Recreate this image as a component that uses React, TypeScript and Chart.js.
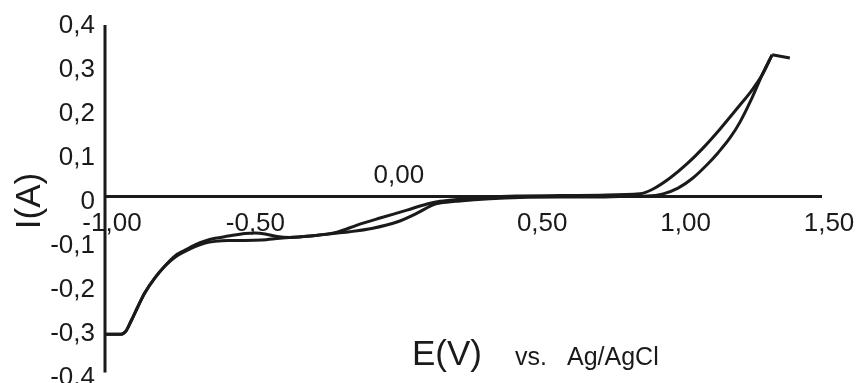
import React, { useEffect, useRef } from 'react';
import { Chart, registerables } from 'chart.js';

Chart.register(...registerables);

// Potential E (V vs Ag/AgCl) and current I (A)
const forwardE = [1.326, 1.291, 1.256, 1.214, 1.179, 1.137, 1.099, 1.05, 0.998, 0.946, 0.89, 0.796, 0.726, 0.586, 0.447, 0.342, 0.238, 0.168, 0.144, 0.088, 0.018, -0.066, -0.146, -0.205, -0.285, -0.39, -0.453, -0.512, -0.571, -0.616, -0.651, -0.686, -0.721, -0.756, -0.791, -0.826, -0.861, -0.885, -0.909, -0.927, -0.944, -1.0];
const forwardI = [0.322, 0.276, 0.224, 0.169, 0.133, 0.099, 0.072, 0.042, 0.019, 0.006, 0.001, 0.0, -0.001, -0.001, -0.002, -0.005, -0.01, -0.015, -0.019, -0.038, -0.058, -0.072, -0.08, -0.084, -0.09, -0.095, -0.099, -0.1, -0.1, -0.102, -0.106, -0.114, -0.125, -0.138, -0.158, -0.185, -0.219, -0.25, -0.283, -0.306, -0.313, -0.313];

const reverseE = [-1.0, -0.944, -0.927, -0.909, -0.885, -0.861, -0.826, -0.791, -0.756, -0.721, -0.686, -0.651, -0.616, -0.571, -0.512, -0.477, -0.442, -0.4, -0.355, -0.285, -0.191, -0.121, -0.041, 0.053, 0.123, 0.168, 0.238, 0.342, 0.447, 0.586, 0.726, 0.865, 0.911, 0.97, 1.029, 1.085, 1.144, 1.214, 1.256, 1.291, 1.326];
const reverseI = [-0.313, -0.313, -0.306, -0.283, -0.25, -0.219, -0.185, -0.158, -0.135, -0.122, -0.11, -0.101, -0.095, -0.09, -0.084, -0.083, -0.085, -0.091, -0.093, -0.09, -0.081, -0.065, -0.049, -0.031, -0.017, -0.011, -0.006, -0.001, 0.001, 0.002, 0.003, 0.006, 0.017, 0.042, 0.074, 0.11, 0.153, 0.208, 0.242, 0.276, 0.322];

const tailE = [1.326, 1.388];
const tailI = [0.322, 0.315];

const xTicks = [-1.0, -0.5, 0.0, 0.5, 1.0, 1.5];
const yTicks = [0.4, 0.3, 0.2, 0.1, 0, -0.1, -0.2, -0.3, -0.4];

const xTitle = 'E(V)';
const xSubTitle = 'vs.';
const xSubTitle2 = 'Ag/AgCl';
const yTitle = 'I(A)';

const toPts = (xs: number[], ys: number[]) => xs.map((x, i) => ({ x, y: ys[i] }));

const INK = '#1a1a1a';
const FONT = '"Liberation Sans", Arial, sans-serif';

const axesPlugin = {
  id: 'cvAxes',
  beforeDatasetsDraw(chart: any) {
    const { ctx, scales } = chart;
    const xs = scales.x;
    const ys = scales.y;
    const x0 = xs.getPixelForValue(-1);
    const x1 = xs.getPixelForValue(1.5);
    const y0 = ys.getPixelForValue(0);
    ctx.save();
    ctx.strokeStyle = INK;
    ctx.lineWidth = 3;
    ctx.beginPath();
    ctx.moveTo(x0, ys.getPixelForValue(0.39));
    ctx.lineTo(x0, ys.getPixelForValue(-0.4));
    ctx.moveTo(x0, y0);
    ctx.lineTo(x1, y0);
    ctx.stroke();
    ctx.restore();
  },
  afterDraw(chart: any) {
    const { ctx, scales } = chart;
    const xs = scales.x;
    const ys = scales.y;
    const axX = xs.getPixelForValue(-1);
    const y0 = ys.getPixelForValue(0);
    ctx.save();
    ctx.fillStyle = INK;
    ctx.font = `26px ${FONT}`;
    ctx.textBaseline = 'alphabetic';
    // y tick labels
    ctx.textAlign = 'right';
    yTicks.forEach((v) => {
      const label = v === 0 ? '0' : v.toFixed(1).replace('.', ',');
      ctx.fillText(label, axX - 10, ys.getPixelForValue(v) + 12.5);
    });
    // x tick labels
    ctx.textAlign = 'center';
    xTicks.forEach((v) => {
      const label = v.toFixed(2).replace('.', ',');
      const px = xs.getPixelForValue(v) + 7;
      const py = v === 0 ? y0 - 14 : y0 + 34;
      ctx.fillText(label, px, py);
    });
    // y title
    ctx.save();
    ctx.font = `35px ${FONT}`;
    ctx.translate(40, 201);
    ctx.rotate(-Math.PI / 2);
    ctx.textAlign = 'center';
    ctx.fillText(yTitle, 0, 0);
    ctx.restore();
    // x title
    ctx.textAlign = 'left';
    ctx.font = `35px ${FONT}`;
    ctx.fillText(xTitle, 412, 365);
    ctx.font = `25px ${FONT}`;
    ctx.fillText(xSubTitle, 515, 365);
    ctx.fillText(xSubTitle2, 567, 365);
    ctx.restore();
  },
};

export default function App() {
  const ref = useRef<HTMLCanvasElement | null>(null);
  useEffect(() => {
    if (!ref.current) return;
    const lineStyle = {
      showLine: true,
      borderColor: INK,
      borderWidth: 3,
      pointRadius: 0,
      fill: false,
      clip: false as any,
    };
    const chart = new Chart(ref.current, {
      type: 'scatter',
      data: {
        datasets: [
          { ...lineStyle, label: 'forward', data: toPts(forwardE, forwardI), cubicInterpolationMode: 'monotone' as const },
          { ...lineStyle, label: 'reverse', data: toPts(reverseE, reverseI), cubicInterpolationMode: 'monotone' as const },
          { ...lineStyle, label: 'tail', data: toPts(tailE, tailI), tension: 0 },
        ],
      },
      options: {
        animation: false,
        responsive: false,
        maintainAspectRatio: false,
        layout: { padding: { left: 105, right: 36, top: 20.5, bottom: 10.5 } },
        plugins: { legend: { display: false }, tooltip: { enabled: false } },
        scales: {
          x: { type: 'linear', min: -1, max: 1.5, display: false },
          y: { type: 'linear', min: -0.4, max: 0.4, display: false },
        },
      },
      plugins: [axesPlugin],
    });
    return () => chart.destroy();
  }, []);
  return (
    <div style={{ position: 'fixed', left: 0, top: 0, width: 858, height: 383, background: '#fff' }}>
      <canvas ref={ref} width={858} height={383} style={{ width: 858, height: 383 }} />
    </div>
  );
}
